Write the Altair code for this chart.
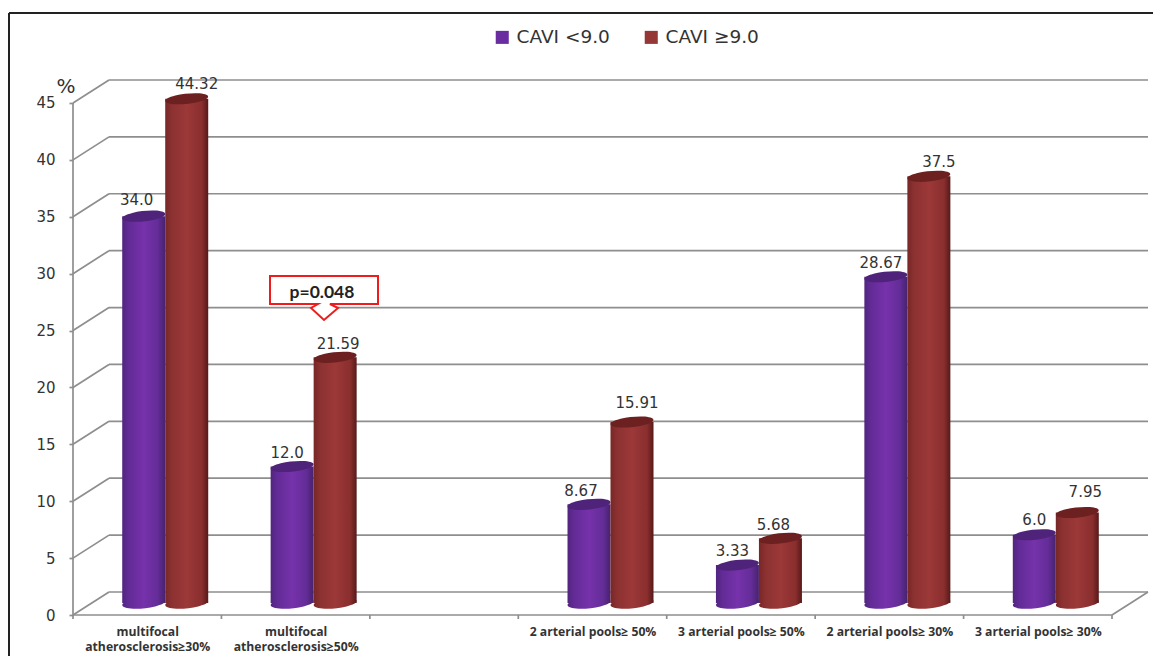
import json
import altair as alt
import pandas as pd

# Chart content
categories = [
    ["multifocal", "atherosclerosis≥30%"],
    ["multifocal", "atherosclerosis≥50%"],
    [""],
    ["2 arterial pools≥ 50%"],
    ["3 arterial pools≥ 50%"],
    ["2 arterial pools≥ 30%"],
    ["3 arterial pools≥ 30%"],
]
low_cavi = [34.0, 12.0, None, 8.67, 3.33, 28.67, 6.0]
high_cavi = [44.32, 21.59, None, 15.91, 5.68, 37.5, 7.95]
low_text = ["34.0", "12.0", "", "8.67", "3.33", "28.67", "6.0"]
high_text = ["44.32", "21.59", "", "15.91", "5.68", "37.5", "7.95"]
series_names = ["CAVI <9.0", "CAVI ≥9.0"]
series_colors = ["#6a2da0", "#953735"]
y_ticks = [0, 5, 10, 15, 20, 25, 30, 35, 40, 45]

# Pixel geometry of the pseudo-3D box
PX_X = 148.43
PX_Y = 11.378
W, H = 1075, 535
DEPTH_X = 36 / PX_X
DEPTH_Y = 23 / PX_Y
BASE = 12 / PX_Y
HALF = 43 / PX_X
GREY = "#8e8e8e"

xs = alt.Scale(domain=[0, W / PX_X], nice=False, zero=False)
ys = alt.Scale(domain=[0, H / PX_Y], nice=False, zero=False)

label_expr = f"{json.dumps(categories, ensure_ascii=False)}[floor(datum.value)]"
x_axis = alt.Axis(
    title=None, values=[i + 0.5 for i in range(7)], labelExpr=label_expr, grid=False, domain=False,
    ticks=False, labelFont="Open Sans", labelFontWeight="bold", labelFontSize=12.2,
    labelColor="#333333", labelPadding=10, labelLineHeight=15, labelAngle=0,
    labelOverlap=False, labelFlush=False, labelBound=False)
y_axis = alt.Axis(
    title=None, values=y_ticks, grid=False, domain=False, tickColor=GREY, tickSize=4, tickWidth=1.7,
    labelFont="DejaVu Sans", labelFontSize=15, labelColor="#333333", labelPadding=14,
    labelOverlap=False, labelFlush=False)

X = alt.X("x:Q", scale=xs, axis=x_axis)
Y = alt.Y("y:Q", scale=ys, axis=y_axis)
X2 = alt.X2("x2:Q")
Y2 = alt.Y2("y2:Q")

# Walls: back gridlines, left-side diagonals and the front axis lines
back = pd.DataFrame([{"x": DEPTH_X, "x2": W / PX_X, "y": v + DEPTH_Y, "y2": v + DEPTH_Y} for v in y_ticks])
diag = pd.DataFrame([{"x": 0, "x2": DEPTH_X, "y": v, "y2": v + DEPTH_Y} for v in y_ticks])
frame = pd.DataFrame([
    {"x": 0, "x2": 7, "y": 0, "y2": 0},
    {"x": 0, "x2": 0, "y": 0, "y2": 45},
    {"x": 7, "x2": 7 + DEPTH_X, "y": 0, "y2": DEPTH_Y},
] + [{"x": i, "x2": i, "y": 0, "y2": -4 / PX_Y} for i in range(8)])


def lines(df):
    return alt.Chart(df).mark_rule(color=GREY, strokeWidth=1.7).encode(x=X, x2=X2, y=Y, y2=Y2)


def ellipse(height):
    # Unit ellipse, slightly tilted like the receding cylinder ends
    return (f"M-0.994,0.105 A1,{height} -6 1 1 0.994,-0.105 "
            f"A1,{height} -6 1 1 -0.994,0.105 Z")


def cylinder(values, offset, stops, cap):
    rows = []
    for i, v in enumerate(values):
        if v is None:
            continue
        c = i + 0.5 + DEPTH_X / 2
        left = c + offset * HALF
        rows.append({"x": left, "x2": left + HALF, "cx": left + HALF / 2,
                     "y": BASE, "y2": BASE + v})
    df = pd.DataFrame(rows)
    grad = alt.Gradient(gradient="linear", x1=0, x2=1, y1=0, y2=0,
                        stops=[alt.GradientStop(offset=o, color=col) for o, col in stops])
    size = 43.0 ** 2
    foot = alt.Chart(df).mark_point(shape=ellipse(0.24), filled=True, fill=grad, size=size,
                                    opacity=1, strokeWidth=0).encode(
        x=alt.X("cx:Q", scale=xs, axis=x_axis), y=Y)
    body = alt.Chart(df).mark_rect(fill=grad).encode(x=X, x2=X2, y=Y, y2=Y2)
    top = alt.Chart(df).mark_point(shape=ellipse(0.23), filled=True, fill=cap, size=size,
                                   opacity=1, strokeWidth=0).encode(
        x=alt.X("cx:Q", scale=xs, axis=x_axis), y=alt.Y("y2:Q", scale=ys, axis=y_axis))
    return [foot, body, top]


purple = cylinder(low_cavi, -1, [(0, "#51257f"), (0.15, "#622b96"), (0.5, "#7632ab"),
                                 (0.82, "#642d98"), (1, "#47226f")], "#4e2379")
red = cylinder(high_cavi, 0, [(0, "#772727"), (0.15, "#8c3131"), (0.5, "#9c3838"),
                              (0.85, "#8a2e2e"), (1, "#571919")], "#6d2020")

# Value labels: horizontal and vertical nudges in pixels keep them clear of the bars
low_nudge = [(-7, 16), (-5, 13), None, (-8, 13), (-5, 14), (-5, 14), (0, 15)]
high_nudge = [(10, 15), (3, 13), None, (5, 19), (-7, 13), (10, 14), (8, 21)]
label_rows = []
for offset, values, texts, nudges in [(-0.5, low_cavi, low_text, low_nudge),
                                      (0.5, high_cavi, high_text, high_nudge)]:
    for i, v in enumerate(values):
        if v is None:
            continue
        dx, dy = nudges[i]
        label_rows.append({"x": i + 0.5 + DEPTH_X / 2 + offset * HALF + dx / PX_X,
                           "y": BASE + v + dy / PX_Y, "t": texts[i]})
labels = alt.Chart(pd.DataFrame(label_rows)).mark_text(
    font="DejaVu Sans", fontSize=15, color="#333333", baseline="middle").encode(x=X, y=Y, text="t:N")

# Callout over the second group
callout_pos = pd.DataFrame({"x": [251 / PX_X], "y": [315 / PX_Y]})
callout_path = ("M-1,-0.444 L1,-0.444 L1,0.074 L0.11,0.074 L0.26,0.148 L0,0.37 "
                "L-0.24,0.148 L-0.111,0.074 L-1,0.074 Z")
callout = alt.Chart(callout_pos).mark_point(
    shape=callout_path, size=108.0 ** 2, filled=True, fill="white", stroke="#ee1c1c",
    strokeWidth=2, opacity=1).encode(x=X, y=Y)
callout_text = alt.Chart(pd.DataFrame({"x": [249 / PX_X], "y": [322 / PX_Y], "t": ["p=0.048"]})).mark_text(
    font="Lato", fontWeight="bold", fontSize=17.5, color="#222222", baseline="middle").encode(x=X, y=Y, text="t:N")

# Unit sign above the value axis
percent = alt.Chart(pd.DataFrame({"x": [-7 / PX_X], "y": [528 / PX_Y], "t": ["%"]})).mark_text(
    font="DejaVu Sans", fontSize=20, color="#333333", baseline="middle").encode(x=X, y=Y, text="t:N")

# Legend comes from an invisible layer so that its swatches keep flat colours
legend_layer = alt.Chart(pd.DataFrame({"x": [0, 0], "y": [0, 0], "series": series_names})).mark_square(
    size=0, opacity=1).encode(
    x=X, y=Y,
    color=alt.Color("series:N", scale=alt.Scale(domain=series_names, range=series_colors),
                    legend=alt.Legend(title=None, orient="none", legendX=420, legendY=-52,
                                      direction="horizontal", columns=2, columnPadding=32,
                                      symbolType="square", symbolSize=170, symbolStrokeWidth=0,
                                      labelFont="DejaVu Sans", labelFontSize=18.5,
                                      labelColor="#333333", labelOffset=5, symbolOpacity=1)))

# Outer black rule along the top and left of the figure
border_top = alt.Chart(pd.DataFrame({"k": [0]})).mark_rule(color="#222222", strokeWidth=2).encode(
    x=alt.value(-64), x2=alt.value(1085), y=alt.value(-67))
border_left = alt.Chart(pd.DataFrame({"k": [0]})).mark_rule(color="#222222", strokeWidth=2).encode(
    x=alt.value(-64), y=alt.value(-67), y2=alt.value(580))

chart = alt.layer(
    lines(back), lines(diag), lines(frame),
    *purple, *red, labels, callout, callout_text, percent, legend_layer,
    border_top, border_left,
).properties(
    width=W, height=H, autosize="none",
    padding={"left": 73, "top": 80, "right": 5, "bottom": 41},
    background="white",
).configure_view(stroke=None, clip=False)

chart.save("out.html", embed_options={"renderer": "svg", "actions": False})
